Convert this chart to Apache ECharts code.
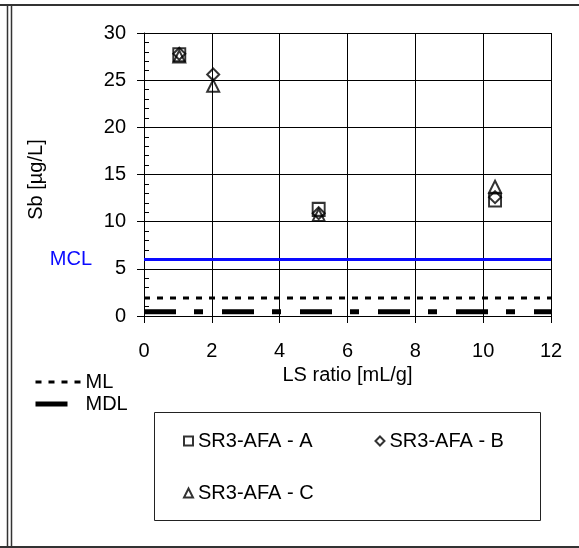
<!DOCTYPE html>
<html>
<head>
<meta charset="utf-8">
<script src="https://cdn.jsdelivr.net/npm/echarts@6/dist/echarts.min.js"></script>
<style>
html,body{margin:0;padding:0;background:#fff;}
#chart{width:579px;height:548px;}
</style>
</head>
<body>
<div id="chart"></div>
<script>
// ---- data ----
const seriesNames = ['SR3-AFA - A', 'SR3-AFA - B', 'SR3-AFA - C'];
const seriesA = [[1.04, 27.7], [5.15, 11.3], [10.35, 12.3]];
const seriesB = [[1.04, 27.8], [2.04, 25.6], [5.15, 10.9], [10.35, 12.6]];
const seriesC = [[1.04, 27.5], [2.04, 24.4], [5.15, 10.7], [10.35, 13.7]];
const mclValue = 6;
const mlValue = 1.9;
const mdlValue = 0.45;
const xExtent = [0, 12];
const yExtent = [0, 30];
const xTickStep = 2;
const yTickStep = 5;

const FONT = "'Liberation Sans', Arial, sans-serif";
const chart = echarts.init(document.getElementById('chart'), null, {renderer: 'canvas'});

const scatterBase = {
  type: 'scatter',
  symbolSize: 12,
  itemStyle: {color: 'rgba(0,0,0,0)', borderColor: '#000', borderWidth: 2},
  emphasis: {disabled: true},
  z: 5
};

chart.setOption({
  animation: false,
  backgroundColor: '#fff',
  textStyle: {fontFamily: FONT, color: '#000'},
  grid: {left: 144, right: 28, top: 33, bottom: 232},
  xAxis: {
    type: 'value', min: xExtent[0], max: xExtent[1], interval: xTickStep,
    name: 'LS ratio [mL/g]', nameLocation: 'middle', nameGap: 39,
    nameTextStyle: {fontSize: 20, color: '#000', fontFamily: FONT},
    axisLine: {show: true, lineStyle: {color: '#000', width: 1}},
    axisTick: {show: true, length: 7, lineStyle: {color: '#000'}},
    axisLabel: {fontSize: 20, color: '#000', margin: 25, fontFamily: FONT},
    splitLine: {show: true, lineStyle: {color: '#000', width: 1}}
  },
  yAxis: [{
    type: 'value', min: yExtent[0], max: yExtent[1], interval: yTickStep, position: 'left',
    name: 'Sb [µg/L]', nameLocation: 'middle', nameGap: 98,
    nameTextStyle: {fontSize: 20, color: '#000', fontFamily: FONT, padding: [0, 10, 0, 0]},
    axisLine: {show: true, lineStyle: {color: '#000', width: 1}},
    axisTick: {show: true, length: 7, lineStyle: {color: '#000'}},
    axisLabel: {fontSize: 20, color: '#000', margin: 18, fontFamily: FONT},
    splitLine: {show: true, lineStyle: {color: '#000', width: 1}}
  }, {
    type: 'value', min: yExtent[0], max: yExtent[1], interval: yTickStep, position: 'left', offset: 0,
    axisLine: {show: false},
    axisTick: {show: true, inside: true, length: 5, lineStyle: {color: '#000'}},
    minorTick: {show: true, splitNumber: 5, length: 5, lineStyle: {color: '#000'}},
    axisLabel: {show: false},
    splitLine: {show: false}
  }],
  legend: [{
    data: ['ML', 'MDL'],
    orient: 'vertical', left: 28, top: 367, itemWidth: 47, itemHeight: 14, itemGap: 2,
    selectedMode: false,
    textStyle: {fontSize: 20, color: '#000', fontFamily: FONT, padding: [0, 0, 0, -2]},
    itemStyle: {color: 'rgba(0,0,0,0)', borderColor: 'rgba(0,0,0,0)', borderWidth: 0},
    lineStyle: {width: 'inherit'}
  }, {
    data: [seriesNames[0], seriesNames[1]],
    orient: 'horizontal', left: 178, top: 426, itemWidth: 9, itemHeight: 9, itemGap: 62,
    selectedMode: false,
    textStyle: {fontSize: 20, color: '#000', fontFamily: FONT}
  }, {
    data: [seriesNames[2]],
    orient: 'horizontal', left: 178, top: 478, itemWidth: 9, itemHeight: 9,
    selectedMode: false,
    textStyle: {fontSize: 20, color: '#000', fontFamily: FONT}
  }],
  graphic: [
    {type: 'rect', shape: {x: 154.5, y: 412.5, width: 386, height: 108}, style: {fill: 'none', stroke: '#222', lineWidth: 1}, silent: true},
    {type: 'line', shape: {x1: 0, y1: 5, x2: 579, y2: 5}, style: {stroke: '#333', lineWidth: 2}, silent: true},
    {type: 'line', shape: {x1: 0, y1: 547, x2: 579, y2: 547}, style: {stroke: '#333', lineWidth: 2}, silent: true},
    {type: 'line', shape: {x1: 7.5, y1: 5, x2: 7.5, y2: 548}, style: {stroke: '#333', lineWidth: 1.5}, silent: true},
    {type: 'line', shape: {x1: 11.5, y1: 5, x2: 11.5, y2: 548}, style: {stroke: '#333', lineWidth: 1.5}, silent: true}
  ],
  series: [
    {
      name: 'MCL', type: 'line', data: [], silent: true,
      markLine: {
        silent: true, symbol: 'none', animation: false,
        lineStyle: {color: '#0a0aff', width: 3, type: 'solid'},
        label: {show: true, position: 'start', formatter: 'MCL', color: '#0a0aff', fontSize: 20, fontFamily: FONT, distance: 52},
        emphasis: {disabled: true},
        data: [{yAxis: mclValue}]
      },
      z: 3
    },
    {
      name: 'ML', type: 'line', symbol: 'none', silent: true,
      data: xExtent.map(x => [x, mlValue]),
      lineStyle: {color: '#000', width: 3, type: [6, 7]},
      itemStyle: {color: '#000'},
      z: 3
    },
    {
      name: 'MDL', type: 'line', symbol: 'none', silent: true,
      data: xExtent.map(x => [x, mdlValue]),
      lineStyle: {color: '#000', width: 5, type: [32, 18, 9, 19]},
      itemStyle: {color: '#000'},
      z: 3
    },
    Object.assign({}, scatterBase, {name: seriesNames[0], symbol: 'rect', symbolSize: [12, 13], data: seriesA}),
    Object.assign({}, scatterBase, {name: seriesNames[1], symbol: 'diamond', symbolSize: [12, 12], data: seriesB}),
    Object.assign({}, scatterBase, {name: seriesNames[2], symbol: 'triangle', symbolSize: [12, 12], data: seriesC})
  ]
});
</script>
</body>
</html>
